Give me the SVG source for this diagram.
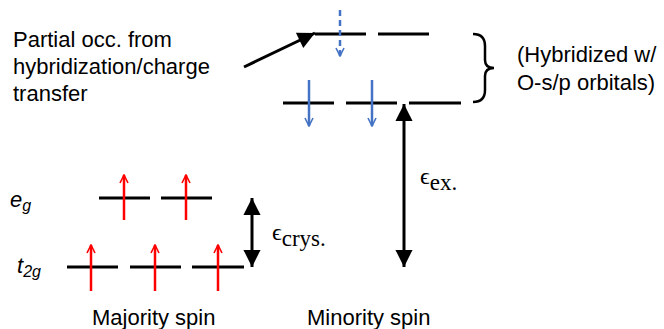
<svg xmlns="http://www.w3.org/2000/svg" width="664" height="329" viewBox="0 0 664 329">
<defs>
<style>
.lvl{stroke:#000;stroke-width:3;fill:none}
.up{stroke:#ff0000;stroke-width:2.5;fill:none}
.dn{stroke:#4472c4;stroke-width:2.5;fill:none}
.blk{stroke:#000;stroke-width:3;fill:none}
.t{font-family:"Liberation Sans",Arial,sans-serif;font-size:22px;fill:#000}
.m{font-family:"Liberation Serif","DejaVu Serif",serif;font-size:24px;fill:#000}
</style>
<marker id="hr" viewBox="0 0 10 10" refX="9" refY="5" markerWidth="4" markerHeight="4" orient="auto" markerUnits="strokeWidth">
<path d="M1,1 L9,5 L1,9" fill="none" stroke="#ff0000" stroke-width="1.6"/>
</marker>
<marker id="hb" viewBox="0 0 10 10" refX="9" refY="5" markerWidth="4" markerHeight="4" orient="auto" markerUnits="strokeWidth">
<path d="M1,1 L9,5 L1,9" fill="none" stroke="#4472c4" stroke-width="1.6"/>
</marker>
<marker id="hk" viewBox="0 0 10 10" refX="10" refY="5" markerWidth="7" markerHeight="5.7" orient="auto" markerUnits="strokeWidth">
<path d="M0,0 L10,5 L0,10 Z" fill="#000"/>
</marker>
</defs>
<rect width="664" height="329" fill="#fff"/>

<g id="majority-eg">
<line class="lvl" x1="99" y1="198" x2="150" y2="198"/>
<line class="lvl" x1="161" y1="198" x2="212" y2="198"/>
<line class="up" x1="124" y1="220" x2="124" y2="175" marker-end="url(#hr)"/>
<line class="up" x1="186" y1="220" x2="186" y2="175" marker-end="url(#hr)"/>
</g>
<g id="majority-t2g">
<line class="lvl" x1="67" y1="267" x2="118" y2="267"/>
<line class="lvl" x1="130" y1="267" x2="181" y2="267"/>
<line class="lvl" x1="192" y1="267" x2="244" y2="267"/>
<line class="up" x1="91" y1="291" x2="91" y2="245" marker-end="url(#hr)"/>
<line class="up" x1="155" y1="291" x2="155" y2="245" marker-end="url(#hr)"/>
<line class="up" x1="218" y1="291" x2="218" y2="245" marker-end="url(#hr)"/>
</g>
<g id="minority-upper">
<line class="lvl" x1="315" y1="34" x2="366" y2="34"/>
<line class="lvl" x1="378" y1="34" x2="429" y2="34"/>
<line class="dn" x1="340" y1="10" x2="340" y2="56" stroke-dasharray="6,4" marker-end="url(#hb)"/>
</g>
<g id="minority-lower">
<line class="lvl" x1="283" y1="103" x2="334" y2="103"/>
<line class="lvl" x1="346" y1="103" x2="397" y2="103"/>
<line class="lvl" x1="409" y1="103" x2="461" y2="103"/>
<line class="dn" x1="309" y1="80" x2="309" y2="126" marker-end="url(#hb)"/>
<line class="dn" x1="372" y1="80" x2="372" y2="126" marker-end="url(#hb)"/>
</g>

<g id="connectors">
<line class="blk" x1="244" y1="67" x2="315" y2="33" marker-end="url(#hk)"/>
<line class="blk" x1="252" y1="232" x2="252" y2="198" marker-end="url(#hk)"/>
<line class="blk" x1="252" y1="232" x2="252" y2="267" marker-end="url(#hk)"/>
<line class="blk" x1="404" y1="185" x2="404" y2="104" marker-end="url(#hk)"/>
<line class="blk" x1="404" y1="185" x2="404" y2="267" marker-end="url(#hk)"/>
<path d="M473,34 Q485,34 485,46 L485,60 Q485,68 494,68 Q485,68 485,76 L485,90 Q485,102 473,102" fill="none" stroke="#000" stroke-width="2.5"/>
</g>

<g id="labels">
<text class="t" x="13" y="47">Partial occ. from</text>
<text class="t" x="13" y="74">hybridization/charge</text>
<text class="t" x="13" y="101">transfer</text>
<text class="t" x="517" y="62">(Hybridized w/</text>
<text class="t" x="517" y="90">O-s/p orbitals)</text>
<text class="t" x="10" y="207" font-size="24" font-style="italic">e<tspan font-size="16" dy="4">g</tspan></text>
<text class="t" x="17" y="273" font-size="24" font-style="italic">t<tspan font-size="16" dy="4">2g</tspan></text>
<text class="m" x="272" y="240">ϵ<tspan dy="6" font-size="23">crys.</tspan></text>
<text class="m" x="420" y="184">ϵ<tspan dy="6" font-size="23">ex.</tspan></text>
<text class="t" x="92" y="325">Majority spin</text>
<text class="t" x="307" y="325">Minority spin</text>
</g>
</svg>
